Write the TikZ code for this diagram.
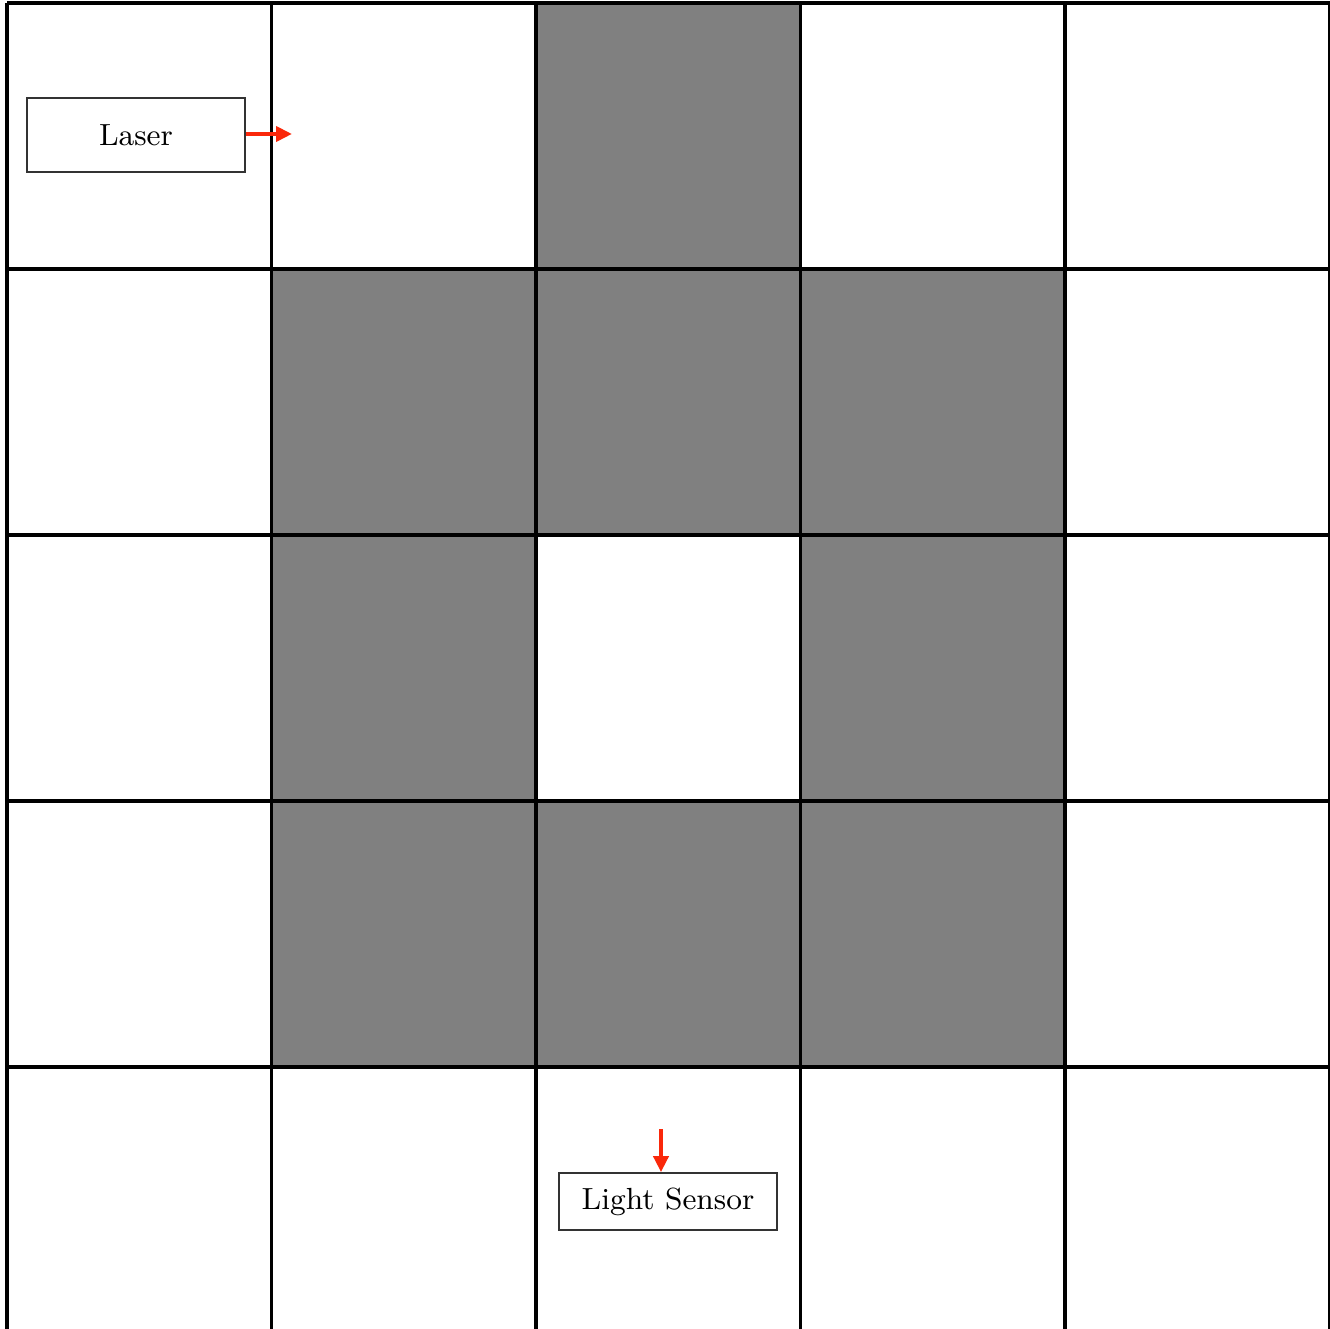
\documentclass[tikz,border=0pt]{standalone}
\usepackage{tikz}
\usetikzlibrary{positioning,arrows.meta,calc}
\usepackage{xcolor}
\definecolor{beamred}{RGB}{250,40,10}
\tikzset{
  gridline/.style={line width=0.9pt,black},
  wallcell/.style={fill=black!50,draw=none},
  partbox/.style={draw=black!80,line width=0.5pt,fill=white,minimum width=2.18cm,inner sep=0pt,font=\fontsize{8.7}{10}\selectfont},
  beam/.style={-{Triangle[length=1.6mm,width=1.5mm]},line width=1.1pt,beamred}
}

\begin{document}
\begin{tikzpicture}[x=2.645cm,y=-2.66cm]
\useasboundingbox (0,0) rectangle (13.30/2.645,13.29/2.66);
\begin{scope}[shift={(0.07cm,-0.03cm)}]
% blocked cells
\foreach \c/\r in {2/0,1/1,2/1,3/1,1/2,3/2,1/3,2/3,3/3}
  \fill[wallcell] (\c,\r) rectangle ++(1,1);
% grid
\foreach \i in {0,...,5}
  \draw[gridline] (\i,0) -- (\i,5.2);
\foreach \j in {0,...,4}
  \draw[gridline] (0,\j) -- (5,\j);
\end{scope}
\node[partbox,minimum height=0.74cm] (laser) at (1.36cm,-1.35cm) {Laser};
\node[partbox,minimum height=0.57cm] (sensor) at (6.68cm,-12.015cm) {Light Sensor};
\coordinate (laserout) at (2.92cm,-1.34cm);
\coordinate (sensorin) at ([xshift=-0.7mm]sensor.north);
\draw[beam] (laser.east|-laserout) -- (laserout);
\draw[beam] ($(sensorin)+(0,0.43cm)$) -- (sensorin);
\end{tikzpicture}
\end{document}
